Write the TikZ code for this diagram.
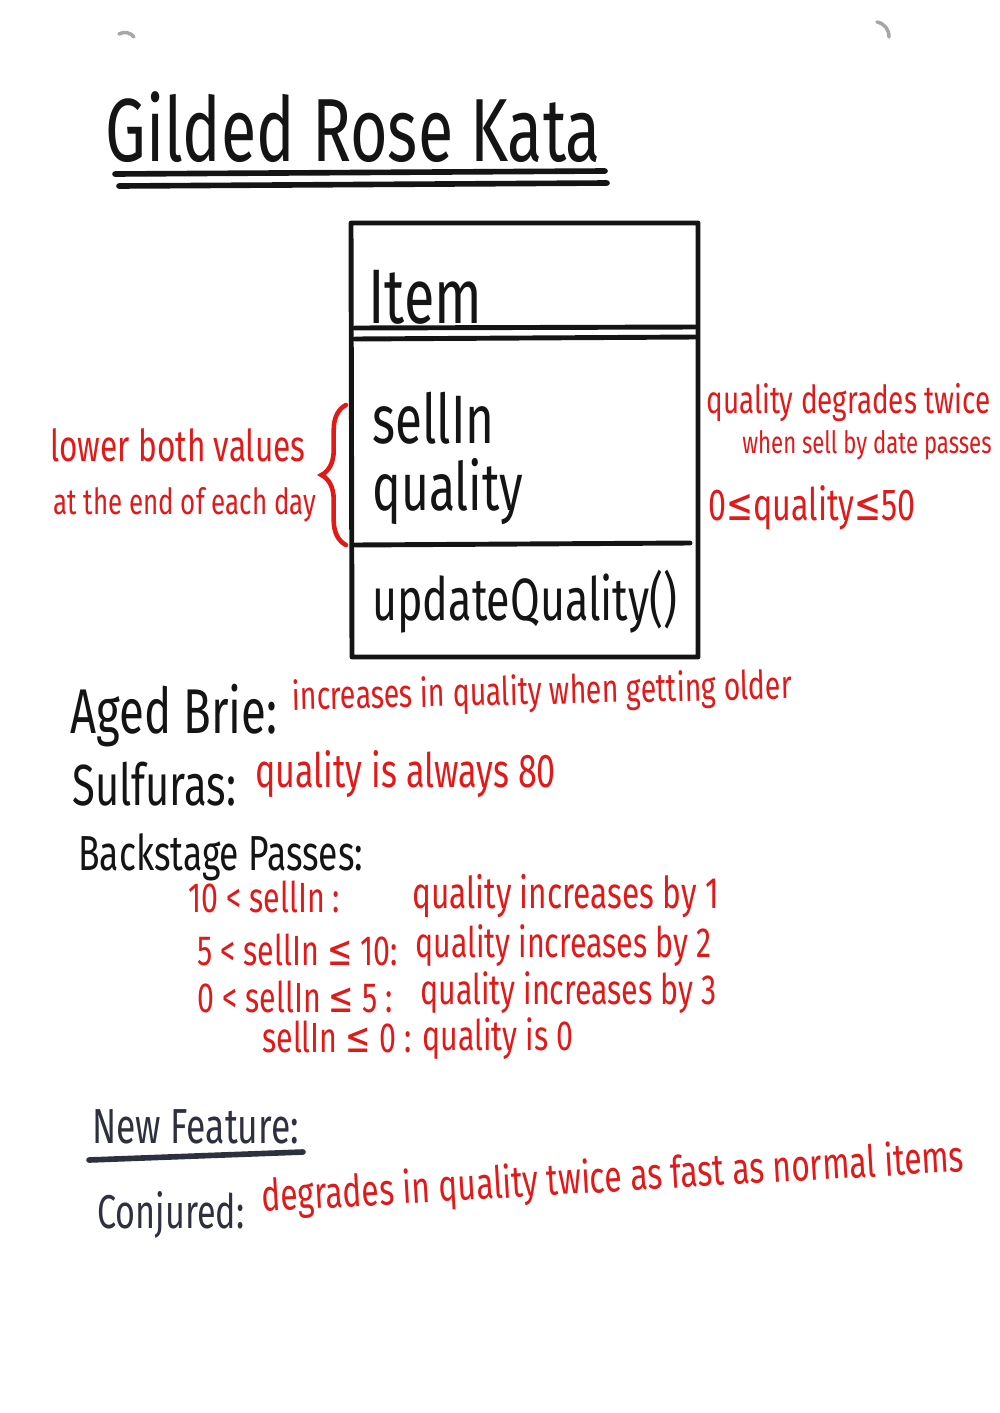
\documentclass[tikz,border=0pt]{standalone}
\usepackage{fontspec}
\setmainfont[FakeStretch=0.72]{Fira Sans}
\newfontfamily\symfont[FakeStretch=0.72]{DejaVu Sans}
\usetikzlibrary{decorations.pathreplacing}

\definecolor{ink}{RGB}{20,20,20}
\definecolor{slate}{RGB}{45,48,62}
\definecolor{marker}{RGB}{225,25,25}

\newcommand{\lesym}{{\symfont ≤}}

\begin{document}
\begin{tikzpicture}[
    x=0.02cm, y=-0.02cm,
    hand/.style={anchor=base west, inner sep=0pt, text=ink, font=\fontsize{#1pt}{#1pt}\selectfont},
    redhand/.style={hand=#1, text=marker},
    boxline/.style={draw=ink, line width=2.8pt, line cap=round, line join=round},
    underline/.style={draw=ink, line width=3.2pt, line cap=round}
]
    \useasboundingbox (0,0) rectangle (1000,1413);

    % Board clips
    \draw [gray!70, line width=2pt, line cap=round] (119,34) to[bend left=40] (134,37);
    \draw [gray!70, line width=2pt, line cap=round] (877,22) to[bend left=40] (889,37);

    % Title
    \node (title) [hand=51] at (105,161) {Gilded Rose Kata};
    \draw [underline] (115,174) -- (605,171);
    \draw [underline] (119,186) -- (607,183);

    % Class box
    \draw [boxline] (351,223) -- (698,223) -- (698,657) -- (352,657) -- cycle;
    \draw [boxline] (355,328) -- (695,327);
    \draw [boxline] (355,339) -- (695,337);
    \draw [boxline] (355,545) -- (690,543);

    \node (name) [hand=44] at (368,323) {Item};
    \node (sellin) [hand=39] at (372,443) {sellIn};
    \node (quality) [hand=38] at (372,510) {quality};
    \node (update) [hand=34] at (372,620) {updateQuality()};

    % Left note with brace
    \draw [marker, line width=2.6pt, line cap=round,
           decorate, decoration={brace, amplitude=14pt}] (346,545) -- (346,405);
    \node (lower) [redhand=25] at (50,461) {lower both values};
    \node (endday) [redhand=20.5] at (53,514) {at the end of each day};

    % Right notes
    \node (twice) [redhand=22] at (706,413) {quality degrades twice};
    \node (passes) [redhand=17.5] at (742,453) {when sell by date passes};
    \node (range) [redhand=25.5] at (708,520) {0\lesym quality\lesym 50};

    % Special items
    \node (brie) [hand=36] at (70,733) {Aged Brie:};
    \node (brienote) [redhand=22.5, rotate=1.3] at (292,710) {increases in quality when getting older};

    \node (sulfuras) [hand=33] at (72,805) {Sulfuras:};
    \node (sulfnote) [redhand=27] at (255,787) {quality is always 80};

    \node (backstage) [hand=28] at (78,870) {Backstage Passes:};
    \node (cond1) [redhand=24] at (188,912) {10 < sellIn :};
    \node (rule1) [redhand=25] at (412,908) {quality increases by 1};
    \node (cond2) [redhand=24] at (197,965) {5 < sellIn \lesym\ 10:};
    \node (rule2) [redhand=24] at (415,957) {quality increases by 2};
    \node (cond3) [redhand=24] at (197,1012) {0 < sellIn \lesym\ 5 :};
    \node (rule3) [redhand=24] at (420,1004) {quality increases by 3};
    \node (cond4) [redhand=24] at (262,1052) {sellIn \lesym\ 0 :};
    \node (rule4) [redhand=24] at (422,1050) {quality is 0};

    % New feature
    \node (newfeat) [hand=28, text=slate] at (92,1143) {New Feature:};
    \draw [underline, draw=slate] (89,1160) -- (303,1152);
    \node (conjured) [hand=27, text=slate] at (97,1228) {Conjured:};
    \node (conjnote) [redhand=25.2, rotate=3.3] at (262,1212) {degrades in quality twice as fast as normal items};

\end{tikzpicture}
\end{document}
